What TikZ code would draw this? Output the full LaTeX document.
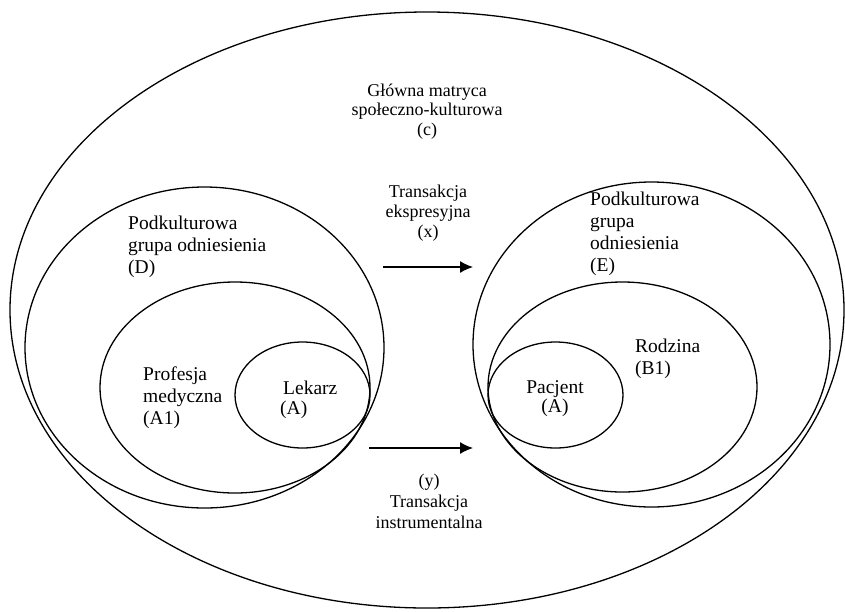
\documentclass[tikz,border=0pt]{standalone}
\usepackage{fontspec}
\setmainfont{Liberation Serif}
\usetikzlibrary{arrows.meta, positioning, shapes.geometric}

\begin{document}
\begin{tikzpicture}[x=1pt, y=-1pt,
    set/.style={draw, ellipse, line width=1.3pt, inner sep=0pt},
    lbl/.style={font=\fontsize{19.5}{22}\selectfont, align=left, inner sep=0pt},
    tlbl/.style={font=\fontsize{18}{20}\selectfont, align=center, inner sep=0pt},
    flow/.style={-{Latex[length=13pt, width=12pt]}, line width=1.3pt}]
  \useasboundingbox (0,0) rectangle (845,611);
  % zbiory
  \node[set, minimum width=834pt, minimum height=596pt] (glowna) at (427,310) {};
  \node[set, minimum width=359pt, minimum height=321pt] (grupaD) at (204.5,347.5) {};
  \node[set, minimum width=270pt, minimum height=211pt] (profesja) at (235,387.5) {};
  \node[set, minimum width=135pt, minimum height=106pt] (lekarz) at (302.5,395) {};
  \node[set, minimum width=357pt, minimum height=325pt] (grupaE) at (651.5,344.5) {};
  \node[set, minimum width=269pt, minimum height=210pt] (rodzina) at (622.5,387) {};
  \node[set, minimum width=135pt, minimum height=106pt] (pacjent) at (555.5,395) {};
  % opisy
  \node[tlbl, font=\fontsize{18}{19.5}\selectfont] (matrycaTxt) at (427,111.5) {Główna matryca\\społeczno-kulturowa\\(c)};
  \node[lbl, anchor=west] (grupaDTxt) at (128,246.5) {Podkulturowa\\grupa odniesienia\\(D)};
  \node[lbl, anchor=west] (profesjaTxt) at (143,397.5) {Profesja\\medyczna\\(A1)};
  \node[lbl, anchor=west, font=\fontsize{19.5}{20}\selectfont] (lekarzTxt) at (280,400) {\hspace{3pt}Lekarz\\(A)};
  \node[lbl, anchor=west] (grupaETxt) at (590,233.5) {Podkulturowa\\grupa\\odniesienia\\(E)};
  \node[lbl, anchor=west] (rodzinaTxt) at (635,358.5) {Rodzina\\(B1)};
  \node[lbl, align=center, font=\fontsize{19.5}{19}\selectfont] (pacjentTxt) at (555,399) {Pacjent\\(A)};
  % transakcje
  \coordinate (xs) at (383,267);
  \coordinate (xe) at (473,267);
  \coordinate (ys) at (369,448);
  \coordinate (ye) at (473,448);
  \draw[flow] (xs) -- (xe);
  \draw[flow] (ys) -- (ye);
  \node[tlbl] (ekspTxt) at (428,213) {Transakcja\\ekspresyjna\\(x)};
  \node[tlbl, font=\fontsize{18}{21}\selectfont] (instrTxt) at (429,501) {(y)\\Transakcja\\instrumentalna};
\end{tikzpicture}
\end{document}
